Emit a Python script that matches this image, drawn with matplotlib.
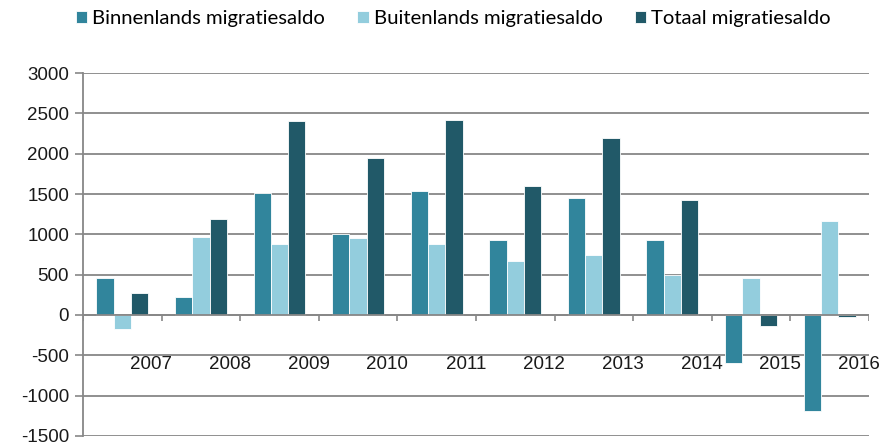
import numpy as np
import matplotlib.pyplot as plt

# Gegevens
jaren = ['2007', '2008', '2009', '2010', '2011', '2012', '2013', '2014', '2015', '2016']
binnenlands = [455, 220, 1515, 1000, 1540, 930, 1450, 930, -590, -1185]
buitenlands = [-180, 965, 885, 950, 875, 670, 745, 495, 455, 1160]
totaal = [270, 1185, 2400, 1950, 2420, 1605, 2190, 1425, -135, -20]

kleur_binnen = '#31859C'
kleur_buiten = '#93CDDD'
kleur_totaal = '#215968'
grijs = '#878787'

plt.rcParams['font.family'] = ['Liberation Sans', 'DejaVu Sans']
plt.rcParams['axes.unicode_minus'] = False

fig = plt.figure(figsize=(8.83, 4.43), dpi=100)
ax = fig.add_axes([0.094, 0.016, 0.890, 0.819])

x = np.arange(len(jaren))
w = 0.22
ax.bar(x - w, binnenlands, w, color=kleur_binnen, edgecolor='white', linewidth=0.6,
       label='Binnenlands migratiesaldo', zorder=3)
ax.bar(x, buitenlands, w, color=kleur_buiten, edgecolor='white', linewidth=0.6,
       label='Buitenlands migratiesaldo', zorder=3)
ax.bar(x + w, totaal, w, color=kleur_totaal, edgecolor='white', linewidth=0.6,
       label='Totaal migratiesaldo', zorder=3)

ax.set_xlim(-0.5, len(jaren) - 0.5)
ax.set_ylim(-1500, 3000)
ax.set_yticks(range(-1500, 3001, 500))
ax.yaxis.grid(True, color=grijs, linewidth=1.3, zorder=0)
ax.set_axisbelow(True)
ax.tick_params(axis='y', direction='out', length=6, width=1.2, color=grijs,
               labelsize=13.5, labelcolor='#1a1a1a', pad=4)
ax.set_xticks([])
for s in ['top', 'right', 'bottom']:
    ax.spines[s].set_visible(False)
ax.spines['left'].set_color(grijs)
ax.spines['left'].set_linewidth(1.3)

# x-as op nul met streepjes tussen de jaren
ax.axhline(0, color=grijs, linewidth=1.3, zorder=4)
ax.vlines(np.arange(len(jaren) + 1) - 0.5, -75, 0, color=grijs, linewidth=1.2, zorder=4)
for i, j in enumerate(jaren):
    ax.text(i + 0.37, -620, j, ha='center', va='center', fontsize=13.5, color='#1a1a1a')

fig.legend(loc='center left', bbox_to_anchor=(0.086, 0.958), ncol=3, frameon=False,
           prop={'family': 'Lato', 'size': 14.6}, handlelength=0.55, handleheight=0.55,
           handletextpad=0.25, columnspacing=1.6, borderpad=0, borderaxespad=0)

plt.savefig('out.png', dpi=100)
